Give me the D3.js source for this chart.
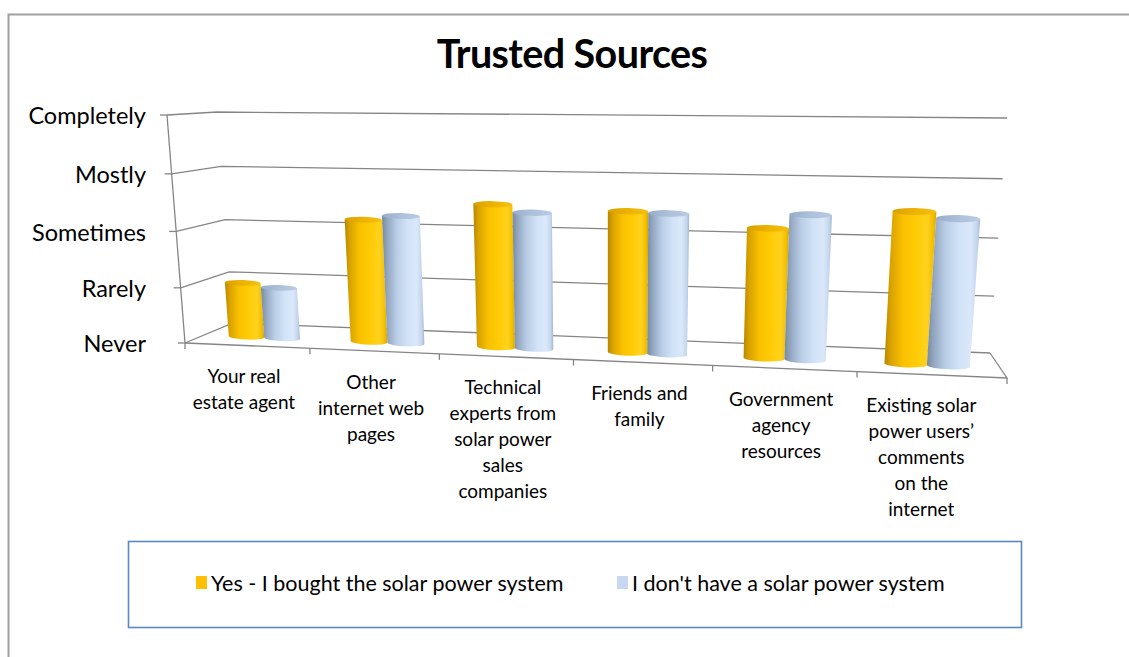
<!DOCTYPE html>
<html>
<head>
<meta charset="utf-8">
<script src="https://cdn.jsdelivr.net/npm/d3@7"></script>
<style>
  body { margin: 0; background: #fff; }
  svg { display: block; }
  text { font-family: Lato, "Open Sans", "DejaVu Sans", sans-serif; fill: #000; }
</style>
</head>
<body>
<svg id="chart" width="1129" height="657"></svg>
<script>
// ---- data ----
const categories = [
  "Your real estate agent",
  "Other internet web pages",
  "Technical experts from solar power sales companies",
  "Friends and family",
  "Government agency resources",
  "Existing solar power users’ comments on the internet"
];
const categoryLines = [
  ["Your real", "estate agent"],
  ["Other", "internet web", "pages"],
  ["Technical", "experts from", "solar power", "sales", "companies"],
  ["Friends and", "family"],
  ["Government", "agency", "resources"],
  ["Existing solar", "power users’", "comments", "on the", "internet"]
];
const levelLabels = ["Never", "Rarely", "Sometimes", "Mostly", "Completely"];
const seriesNames = ["Yes - I bought the solar power system", "I don't have a solar power system"];
const boughtValues   = [1.00, 2.20, 2.52, 2.45, 2.22, 2.55];
const noSystemValues = [0.93, 2.28, 2.39, 2.43, 2.46, 2.45];
const seriesColors = ["#FFC000", "#C6D9F1"];

const svg = d3.select("#chart");
const W = 1129, H = 657;

// ---- 3D box in screen space: front (w=0) and back (w=1) planes ----
const frontPlane = { bl: [185, 343], br: [1007, 378], tr: [1027, 124], tl: [167, 115] };
const backPlane  = { bl: [233, 323], br: [990, 353],  tr: [1007, 118], tl: [217, 112] };
const barDepth = 0.4;

function lerpPt(a, b, t) { return [a[0] + (b[0] - a[0]) * t, a[1] + (b[1] - a[1]) * t]; }

// unit square -> quad (perspective homography)
function homography(p0, p1, p2, p3) {
  const [x0, y0] = p0, [x1, y1] = p1, [x2, y2] = p2, [x3, y3] = p3;
  const sx = x0 - x1 + x2 - x3, sy = y0 - y1 + y2 - y3;
  const dx1 = x1 - x2, dx2 = x3 - x2, dy1 = y1 - y2, dy2 = y3 - y2;
  const den = dx1 * dy2 - dy1 * dx2;
  const g = (sx * dy2 - sy * dx2) / den, h = (dx1 * sy - dy1 * sx) / den;
  const a = x1 - x0 + g * x1, b = x3 - x0 + h * x3, c = x0;
  const d = y1 - y0 + g * y1, e = y3 - y0 + h * y3, f = y0;
  return (u, v) => { const z = g * u + h * v + 1; return [(a * u + b * v + c) / z, (d * u + e * v + f) / z]; };
}

const planeCache = new Map();
function planeAt(w) {
  if (!planeCache.has(w)) {
    planeCache.set(w, homography(
      lerpPt(frontPlane.bl, backPlane.bl, w),
      lerpPt(frontPlane.br, backPlane.br, w),
      lerpPt(frontPlane.tr, backPlane.tr, w),
      lerpPt(frontPlane.tl, backPlane.tl, w)));
  }
  return planeCache.get(w);
}

// scales in box units
const x = d3.scaleBand().domain(categories).range([0, 1]);
const y = d3.scaleLinear().domain([0, levelLabels.length - 1]).range([0, 1]);
const barDiameter = 0.049;
const xs = d3.scaleBand().domain(seriesNames).range([-barDiameter, barDiameter]);

function P(u, value, w) { return planeAt(w)(u, y(value)); }

// ---- outer frame ----
svg.append("path")
  .attr("d", `M8.5,657 L8.5,14.5 L${W},14.5`)
  .attr("fill", "none").attr("stroke", "#a0a0a0").attr("stroke-width", 2);

// ---- title ----
svg.append("text")
  .attr("x", 572).attr("y", 68)
  .attr("text-anchor", "middle")
  .attr("font-size", 39.5).attr("font-weight", "bold")
  .attr("letter-spacing", -0.6)
  .text("Trusted Sources");

// ---- walls & floor ----
const grid = svg.append("g").attr("fill", "none").attr("stroke", "#858585").attr("stroke-width", 1.3);
const line = d3.line();
levelLabels.forEach((lab, k) => {
  grid.append("path").attr("d", line([P(0, k, 0), P(0, k, 1), P(1, k, 1)]));
});
// left wall front edge
grid.append("path").attr("d", line([P(0, 0, 0), P(0, levelLabels.length - 1, 0)]));
// floor outline
grid.append("path").attr("d", line([P(1, 0, 1), P(1, 0, 0), P(0, 0, 0)]));

// value axis ticks and labels
levelLabels.forEach((lab, k) => {
  const p = P(0, k, 0);
  grid.append("path").attr("d", line([[p[0] - 7, p[1]], p]));
  svg.append("text")
    .attr("x", 146).attr("y", p[1] + 1)
    .attr("dy", "0.35em")
    .attr("text-anchor", "end")
    .attr("font-size", 23.5)
    .text(lab);
});

// category ticks along the front floor edge
d3.range(0, categories.length + 1).forEach(i => {
  const p = P(i / categories.length, 0, 0);
  grid.append("path").attr("d", line([p, [p[0], p[1] + 6]]));
});

// category labels, wrapped lines centred under each band (the last one
// is pulled in slightly so it stays inside the plot area)
categories.forEach((cat, i) => {
  const p = P(x(cat) + x.bandwidth() / 2, 0, 0);
  const t = svg.append("text")
    .attr("text-anchor", "middle")
    .attr("font-size", 19);
  categoryLines[i].forEach((ln, j) => {
    t.append("tspan")
      .attr("x", p[0] - 3 - (i === categories.length - 1 ? 7 : 0))
      .attr("y", p[1] + 31 + j * 26)
      .attr("dy", "0.35em")
      .text(ln);
  });
});

// ---- gradients for cylinders ----
const defs = svg.append("defs");
function grad(id, stops) {
  const g = defs.append("linearGradient").attr("id", id)
    .attr("x1", 0).attr("y1", 0).attr("x2", 1).attr("y2", 0);
  stops.forEach(([o, c]) => g.append("stop").attr("offset", o).attr("stop-color", c));
}
grad("bodyYes", [[0, "#B88700"], [0.12, "#D9A200"], [0.35, "#F9C000"], [0.6, "#FFCB05"], [0.82, "#FFD21E"], [0.94, "#F2BE00"], [1, "#D8A600"]]);
grad("bodyNo",  [[0, "#76899F"], [0.12, "#91A5BF"], [0.35, "#B9CDE6"], [0.6, "#D1E2F7"], [0.82, "#DAE8FA"], [0.94, "#C4D5EC"], [1, "#A3B5CE"]]);
grad("topYes",  [[0, "#D9A000"], [0.5, "#EDB300"], [1, "#F5BF10"]]);
grad("topNo",   [[0, "#98ADCA"], [0.5, "#ACC0DA"], [1, "#BACBE3"]]);
const bodyFill = ["url(#bodyYes)", "url(#bodyNo)"];
const topFill = ["url(#topYes)", "url(#topNo)"];

// ---- cylinders ----
const seriesValues = [boughtValues, noSystemValues];
const bars = [];
categories.forEach((cat, i) => {
  seriesNames.forEach((s, si) => {
    bars.push({ cat, s, si, value: seriesValues[si][i] });
  });
});

const ryRatio = 0.16;
function ellipseParams(a, b) {
  const cx = (a[0] + b[0]) / 2, cy = (a[1] + b[1]) / 2;
  const rx = Math.hypot(b[0] - a[0], b[1] - a[1]) / 2;
  const ang = Math.atan2(b[1] - a[1], b[0] - a[0]) * 180 / Math.PI;
  return { cx, cy, rx, ry: rx * ryRatio, ang };
}

const barG = svg.append("g");
bars.forEach(d => {
  const uc = x(d.cat) + x.bandwidth() / 2 + xs(d.s) + xs.bandwidth() / 2;
  const r = xs.bandwidth() / 2;
  const bL = P(uc - r, 0, barDepth), bR = P(uc + r, 0, barDepth);
  const tL = P(uc - r, d.value, barDepth), tR = P(uc + r, d.value, barDepth);
  const eb = ellipseParams(bL, bR), et = ellipseParams(tL, tR);
  const body = `M${tL[0]},${tL[1]} L${bL[0]},${bL[1]} ` +
    `A${eb.rx},${eb.ry} ${eb.ang} 0 0 ${bR[0]},${bR[1]} ` +
    `L${tR[0]},${tR[1]} Z`;
  const g = barG.append("g");
  g.append("path").attr("d", body).attr("fill", bodyFill[d.si]);
  g.append("ellipse")
    .attr("cx", et.cx).attr("cy", et.cy)
    .attr("rx", et.rx).attr("ry", et.ry)
    .attr("transform", `rotate(${et.ang},${et.cx},${et.cy})`)
    .attr("fill", topFill[d.si]);
});

// ---- legend ----
const legend = svg.append("g");
legend.append("rect")
  .attr("x", 128.5).attr("y", 541.5).attr("width", 893).attr("height", 86)
  .attr("fill", "none").attr("stroke", "#5B87C5").attr("stroke-width", 1.6);
const legendX = [196, 617];
seriesNames.forEach((s, i) => {
  legend.append("rect")
    .attr("x", legendX[i]).attr("y", 576).attr("width", 11).attr("height", 13)
    .attr("fill", seriesColors[i]);
  legend.append("text")
    .attr("x", legendX[i] + 15).attr("y", 583)
    .attr("dy", "0.35em")
    .attr("font-size", 21.5)
    .text(s);
});
</script>
</body>
</html>
